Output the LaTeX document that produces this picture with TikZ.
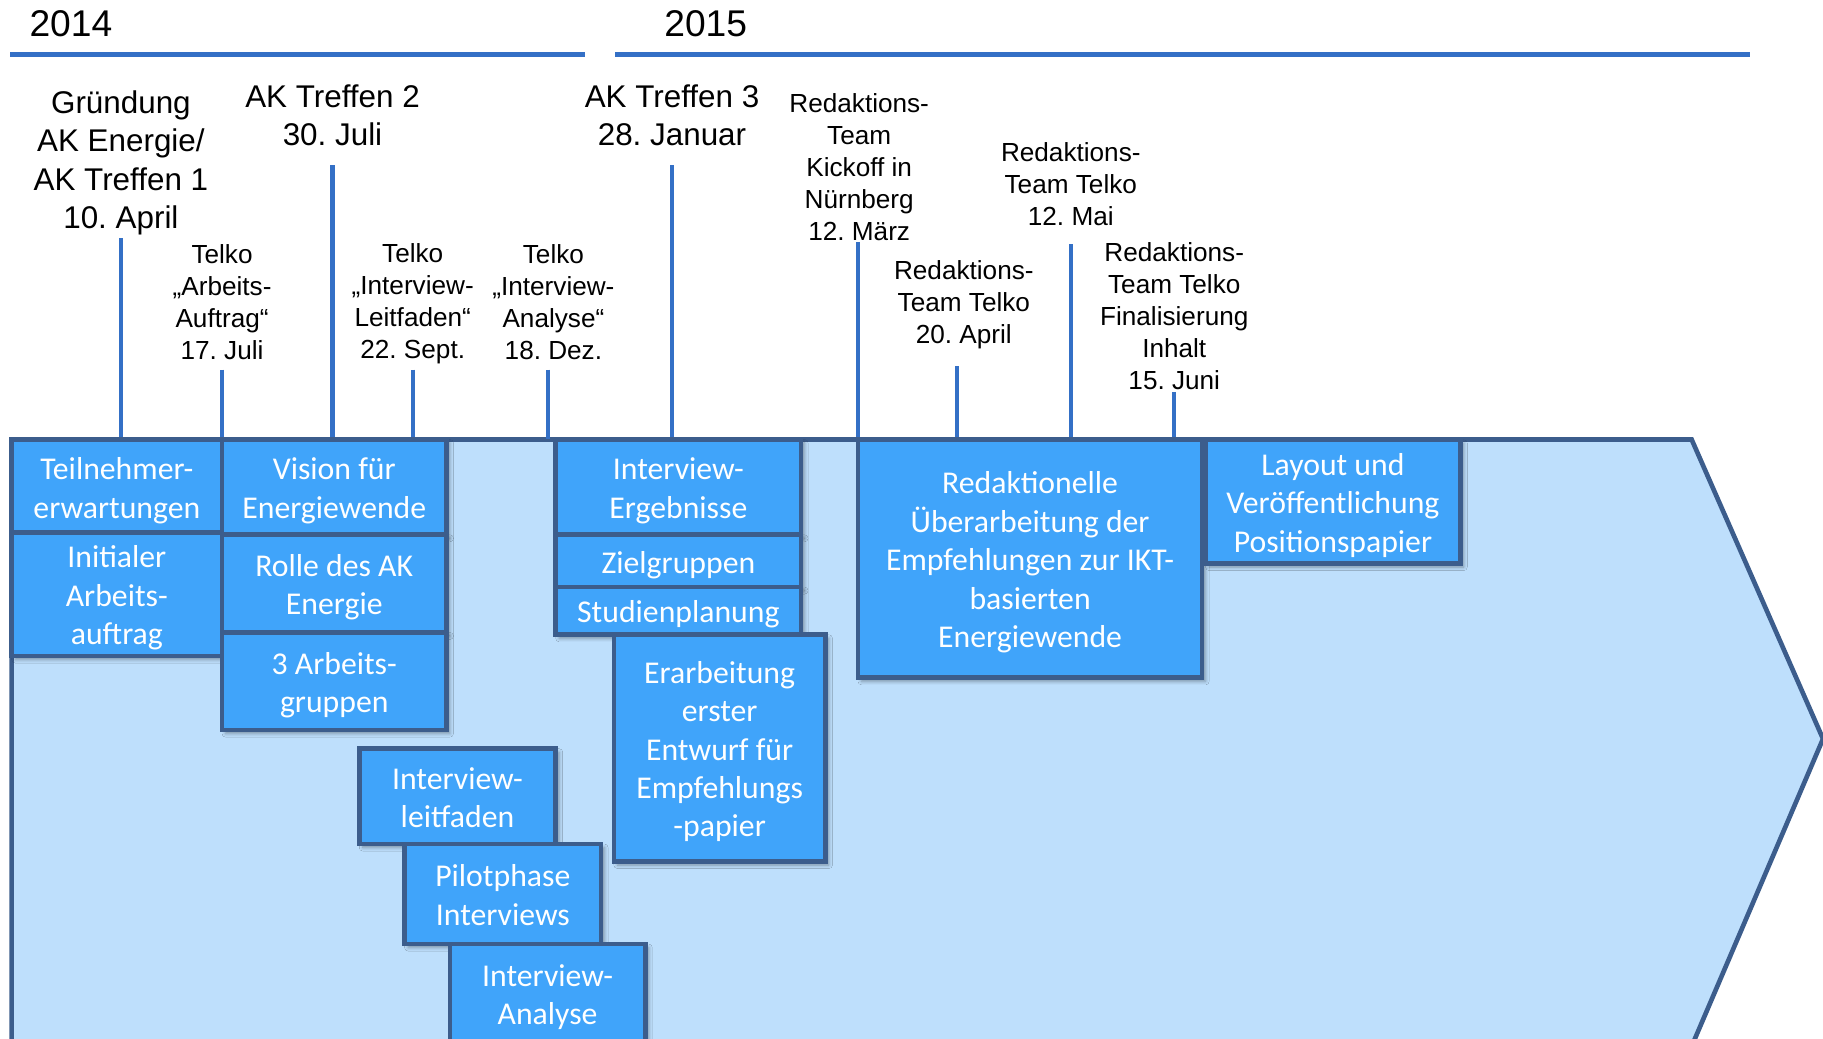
\documentclass[tikz,border=0pt]{standalone}
\usepackage{fontspec}
\setmainfont{Liberation Sans}
\newfontfamily\boxfont{Carlito}
\usetikzlibrary{shadows.blur}
\frenchspacing
\definecolor{stemblue}{RGB}{52,112,198}
\definecolor{boxfill}{RGB}{64,164,250}
\definecolor{boxborder}{RGB}{60,93,140}
\definecolor{arrowfill}{RGB}{190,223,252}
\newcommand{\boxtxt}[1]{\begin{tabular}{@{}c@{}}\rule{0pt}{30.6pt}#1\rule[-9.9pt]{0pt}{9.9pt}\end{tabular}}
\begin{document}
\begin{tikzpicture}[x=1pt,y=-1pt,
  yearline/.style={stemblue,line width=4.3pt},
  stem/.style={stemblue,line width=3.5pt},
  yearlabel/.style={font=\fontsize{32}{38}\selectfont,inner sep=0pt},
  biglabel/.style={font=\fontsize{27}{33}\selectfont,align=center,inner sep=0pt},
  smalllabel/.style={font=\fontsize{22.5}{27.5}\selectfont,align=center,inner sep=0pt},
  taskbox/.style={draw=boxborder,fill=boxfill,line width=4pt,text=white,
    font=\boxfont\fontsize{27.3}{33}\selectfont,inner sep=0pt,
    blur shadow={shadow xshift=3pt,shadow yshift=-3pt,shadow blur radius=3pt,shadow opacity=35}},
]
\useasboundingbox (0,0) rectangle (1568,893);
% arrow body
\fill[arrowfill] (10,378) -- (1455,378) -- (1568,635.5) -- (1455,900) -- (10,900) -- cycle;
\draw[boxborder,line width=4pt,line join=miter] (10,900) -- (10,378) -- (1455,378) -- (1568,635.5) -- (1455,900);
% years
\node[yearlabel] (y14) at (61,20) {2014};
\node[yearlabel] (y15) at (607,20) {2015};
\coordinate (y14a) at (9,46.5); \coordinate (y14b) at (503,46.5);
\coordinate (y15a) at (529,46.5); \coordinate (y15b) at (1505,46.5);
\draw[yearline] (y14a) -- (y14b);
\draw[yearline] (y15a) -- (y15b);
% milestone labels
\node[biglabel] (l1) at (104,140) {Gründung\\AK Energie/\\AK Treffen 1\\10. April};
\node[smalllabel] (l2) at (191,259.5) {Telko\\„Arbeits-\\Auftrag“\\17. Juli};
\node[biglabel] (l3) at (286,99) {AK Treffen 2\\30. Juli};
\node[smalllabel] (l4) at (355,261.5) {Telko\\„Interview-\\Leitfaden“\\22. Sept.};
\node[smalllabel] (l5) at (476,259.5) {Telko\\„Interview-\\Analyse“\\18. Dez.};
\node[biglabel] (l6) at (578,99) {AK Treffen 3\\28. Januar};
\node[smalllabel] (l7) at (739,144) {Redaktions-\\Team\\Kickoff in\\Nürnberg\\12. März};
\node[smalllabel] (l8) at (829,262) {Redaktions-\\Team Telko\\20. April};
\node[smalllabel] (l9) at (921,158) {Redaktions-\\Team Telko\\12. Mai};
\node[smalllabel] (l10) at (1010,272) {Redaktions-\\Team Telko\\Finalisierung\\Inhalt\\15. Juni};
% stems
\foreach \n/\x/\t in {1/104/205,2/191/318,3/286/142,4/355/318,5/471/318,6/578/142,7/738/208,8/823/315,9/921/210,10/1010/337}{
  \coordinate (s\n t) at (\x,\t);
  \coordinate (s\n b) at (\x,378);
  \draw[stem] (s\n t) -- (s\n b);
}
% task boxes
\node[taskbox,minimum width=181pt,minimum height=82pt] (A) at (100.5,419) {\boxtxt{Teilnehmer-\\erwartungen}};
\node[taskbox,minimum width=181pt,minimum height=102pt] (B) at (100.5,511) {\boxtxt{Initialer\\Arbeits-\\auftrag}};
\node[taskbox,minimum width=193pt,minimum height=82pt] (C) at (287.5,419) {\boxtxt{Vision für\\Energiewende}};
\node[taskbox,minimum width=193pt,minimum height=84pt] (D) at (287.5,502) {\boxtxt{Rolle des AK\\Energie}};
\node[taskbox,minimum width=193pt,minimum height=84pt] (E) at (287.5,586) {\boxtxt{3 Arbeits-\\gruppen}};
\node[taskbox,minimum width=169pt,minimum height=82pt] (F) at (393.5,685) {\boxtxt{Interview-\\leitfaden}};
\node[taskbox,minimum width=169pt,minimum height=86pt] (G) at (432.5,769) {\boxtxt{Pilotphase\\Interviews}};
\node[taskbox,minimum width=168pt,minimum height=85pt] (H) at (471,854.5) {\boxtxt{Interview-\\Analyse}};
\node[taskbox,minimum width=211pt,minimum height=82pt] (I) at (583.5,419) {\boxtxt{Interview-\\Ergebnisse}};
\node[taskbox,minimum width=211pt,minimum height=45pt] (J) at (583.5,482.5) {\boxtxt{Zielgruppen}};
\node[taskbox,minimum width=211pt,minimum height=41pt] (K) at (583.5,525.5) {\boxtxt{Studienplanung}};
\node[taskbox,minimum width=182pt,minimum height=195pt] (L) at (619,643.5) {\boxtxt{Erarbeitung\\erster\\Entwurf für\\Empfehlungs\\-papier}};
\node[taskbox,minimum width=296pt,minimum height=205pt] (M) at (886,480.5) {\boxtxt{Redaktionelle\\Überarbeitung der\\Empfehlungen zur IKT-\\basierten\\Energiewende}};
\node[taskbox,minimum width=219pt,minimum height=101pt] (N) at (1146.5,431.5) {\boxtxt{Layout und\\Veröffentlichung\\Positionspapier}};
\end{tikzpicture}
\end{document}
